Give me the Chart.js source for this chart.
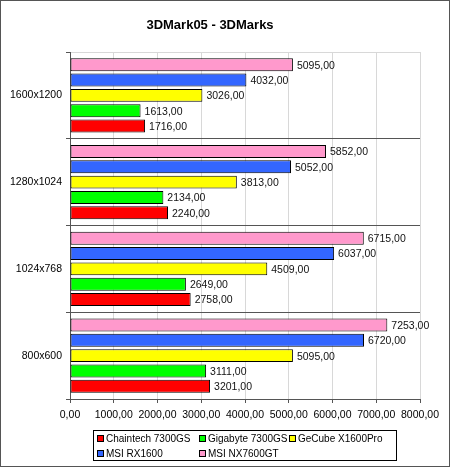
<!DOCTYPE html>
<html>
<head>
<meta charset="utf-8">
<script src="https://cdn.jsdelivr.net/npm/chart.js@4/dist/chart.umd.min.js"></script>
<style>
  html, body { margin: 0; padding: 0; background: #fff; }
  canvas { display: block; }
</style>
</head>
<body>
<canvas id="chart" width="450" height="467"></canvas>
<script>
const categories = ['1600x1200', '1280x1024', '1024x768', '800x600']

const chaintech7300gs = [1716, 2240, 2758, 3201]
const gigabyte7300gs = [1613, 2134, 2649, 3111]
const gecubeX1600pro = [3026, 3813, 4509, 5095]
const msiRx1600 = [4032, 5052, 6037, 6720]
const msiNx7600gt = [5095, 5852, 6715, 7253]

const xTicks = [0, 1000, 2000, 3000, 4000, 5000, 6000, 7000, 8000]

const FONT = '"Liberation Sans", Arial, sans-serif'
const SMALL = 10.5

const fmt = v => Number(v).toFixed(2).replace('.', ',')

// Excel draws the first series at the bottom of each group, so the list is reversed here
const series = [
  { label: 'MSI NX7600GT', data: msiNx7600gt, color: '#FF99CC' },
  { label: 'MSI RX1600', data: msiRx1600, color: '#3366FF' },
  { label: 'GeCube X1600Pro', data: gecubeX1600pro, color: '#FFFF00' },
  { label: 'Gigabyte 7300GS', data: gigabyte7300gs, color: '#00FF00' },
  { label: 'Chaintech 7300GS', data: chaintech7300gs, color: '#FF0000' }
]

const valueLabels = {
  id: 'valueLabels',
  afterDatasetsDraw(chart) {
    const ctx = chart.ctx
    ctx.save()
    ctx.font = SMALL + 'px ' + FONT
    ctx.fillStyle = '#111'
    ctx.textAlign = 'left'
    ctx.textBaseline = 'middle'
    chart.data.datasets.forEach((ds, i) => {
      chart.getDatasetMeta(i).data.forEach((bar, j) => {
        ctx.fillText(fmt(ds.data[j]), bar.x + 4, bar.y + 1)
      })
    })
    ctx.restore()
  }
}

const boxLegend = {
  id: 'boxLegend',
  afterDraw(chart) {
    const ctx = chart.ctx
    const items = chart.data.datasets.slice().reverse()
    const cols = [97, 199, 289]
    const rows = [438, 453]
    ctx.save()
    ctx.strokeStyle = '#000'
    ctx.lineWidth = 1
    ctx.strokeRect(93.5, 430.5, 303, 30)
    ctx.font = '10px ' + FONT
    ctx.textBaseline = 'middle'
    ctx.textAlign = 'left'
    items.forEach((ds, i) => {
      const x = cols[i % 3]
      const y = rows[Math.floor(i / 3)]
      ctx.fillStyle = ds.backgroundColor
      ctx.fillRect(x, y - 3, 7, 7)
      ctx.strokeStyle = '#000'
      ctx.strokeRect(x + 0.5, y - 2.5, 6, 6)
      ctx.fillStyle = '#000'
      ctx.fillText(ds.label, x + 9, y + 1)
    })
    // outer frame of the picture
    ctx.strokeStyle = '#555'
    ctx.strokeRect(0.5, 0.5, chart.width - 1, chart.height - 1)
    ctx.restore()
  }
}

new Chart(document.getElementById('chart'), {
  type: 'bar',
  data: {
    labels: categories,
    datasets: series.map(s => ({
      label: s.label,
      data: s.data,
      backgroundColor: s.color,
      borderColor: '#000',
      borderWidth: 1,
      borderSkipped: false,
      barPercentage: 0.85,
      categoryPercentage: 0.88
    }))
  },
  options: {
    indexAxis: 'y',
    responsive: false,
    animation: false,
    events: [],
    layout: {
      padding: { top: 0, left: 0, right: 30, bottom: 40 }
    },
    plugins: {
      legend: { display: false },
      tooltip: { enabled: false },
      title: {
        display: true,
        text: '3DMark05 - 3DMarks',
        color: '#000',
        font: { family: FONT, size: 13, weight: 'bold' },
        padding: { top: 18, bottom: 18.4 }
      }
    },
    scales: {
      x: {
        min: 0,
        max: 8000,
        afterBuildTicks: scale => {
          scale.ticks = xTicks.map(v => ({ value: v }))
        },
        afterFit: scale => { scale.height = 28 },
        ticks: {
          color: '#000',
          font: { family: FONT, size: SMALL },
          padding: 6,
          maxRotation: 0,
          autoSkip: false,
          callback: v => fmt(v)
        },
        grid: {
          color: '#d8d8d8',
          tickColor: '#555',
          tickLength: 4
        },
        border: { color: '#555' }
      },
      y: {
        offset: true,
        afterFit: scale => { scale.width = 70 },
        ticks: {
          color: '#000',
          font: { family: FONT, size: SMALL },
          padding: 4
        },
        grid: {
          offset: true,
          color: ctx => ctx.index === 0 ? '#d8d8d8' : '#555',
          tickColor: '#555',
          tickLength: 4
        },
        border: { color: '#555' }
      }
    }
  },
  plugins: [valueLabels, boxLegend]
})
</script>
</body>
</html>
